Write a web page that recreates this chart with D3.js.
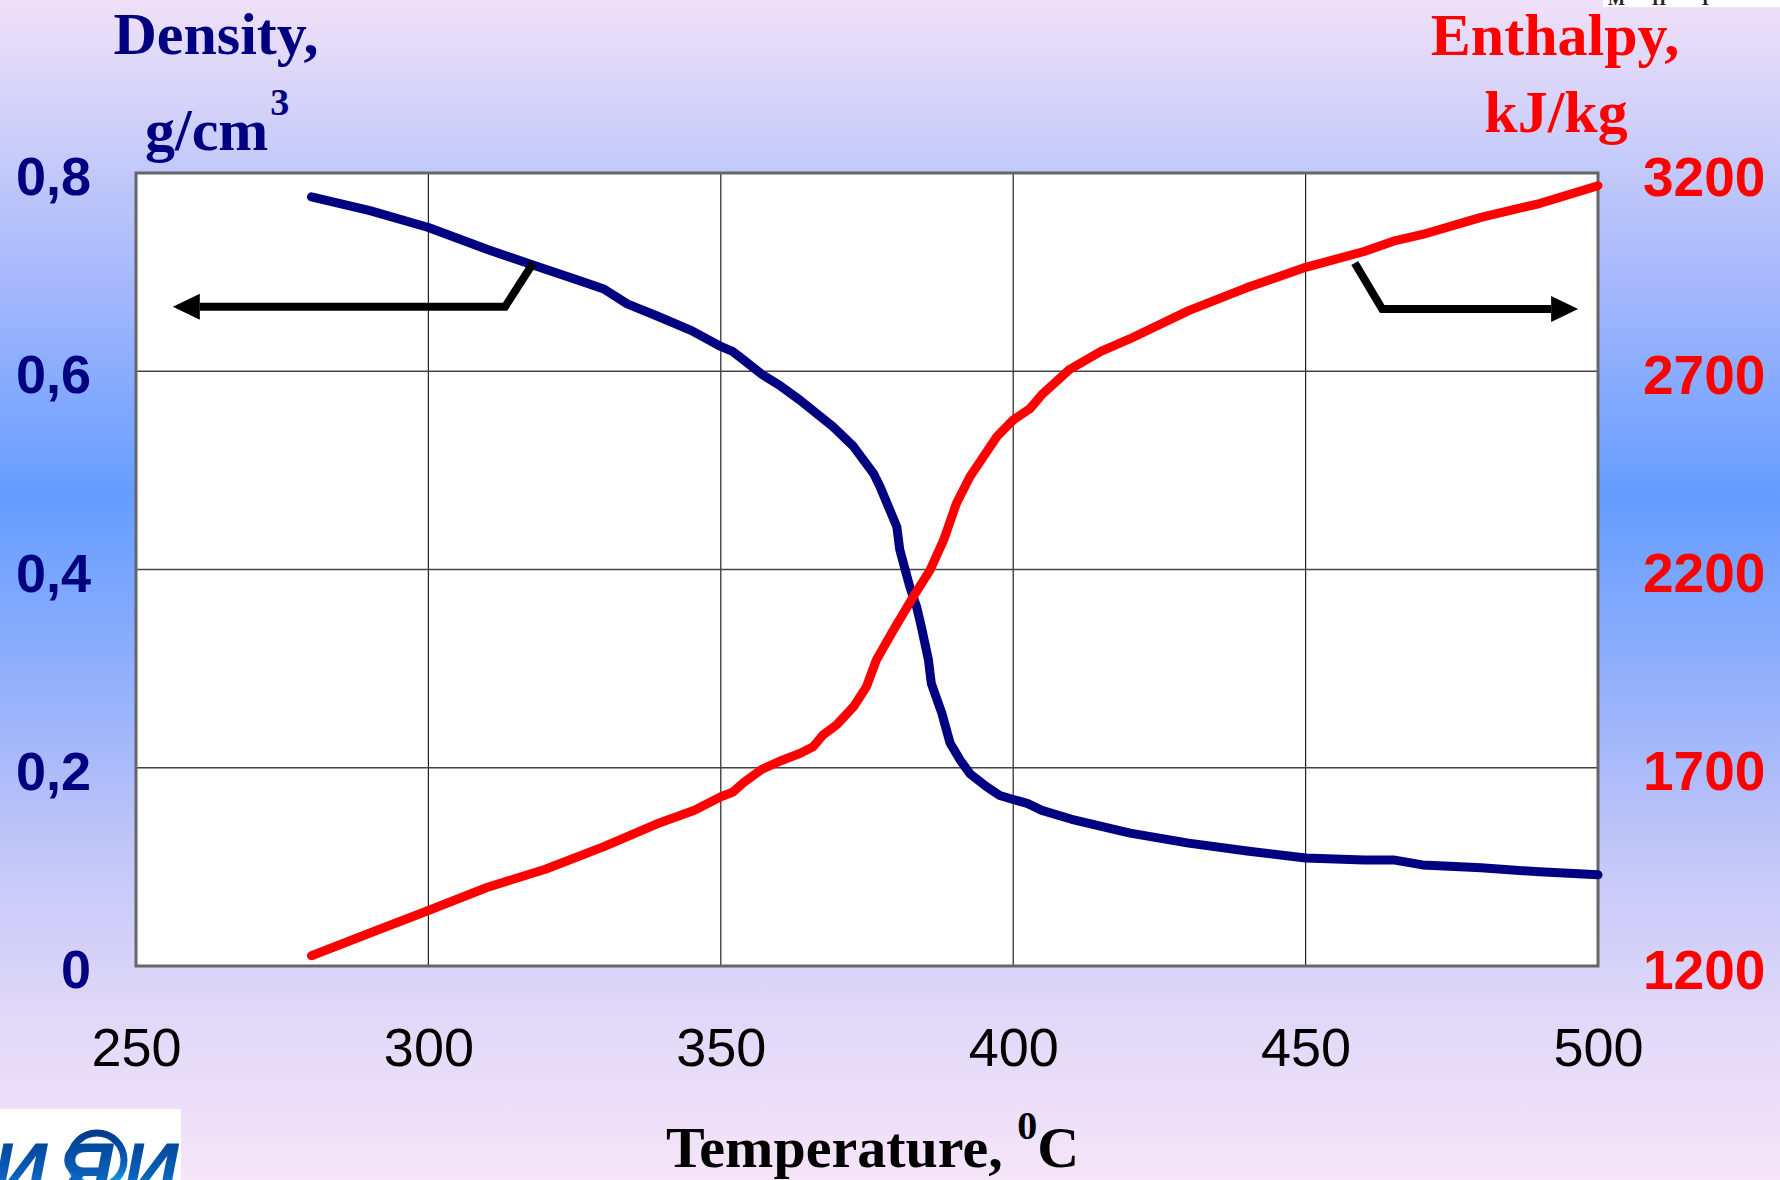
<!DOCTYPE html>
<html>
<head>
<meta charset="utf-8">
<script src="https://cdn.jsdelivr.net/npm/d3@7/dist/d3.min.js"></script>
<style>
  html, body { margin: 0; padding: 0; }
  body { width: 1780px; height: 1180px; overflow: hidden; }
  svg { display: block; }
</style>
</head>
<body>
<svg id="chart" width="1780" height="1180"></svg>
<script>
// ---- Data ----
const tempDensity = [280,290,300,310,319,325,330,334,339,345,350,352,354,357,360,363.5,369.2,372.7,376.1,377.2,378.9,380.1,380.6,382.3,383.5,384.3,385.5,386,387.8,389.2,390.9,392.6,395.4,397.7,400,402.4,404.9,410,420,430,440,450,460,465,470,480,490,500];
const density = [0.776,0.762,0.745,0.723,0.705,0.693,0.683,0.668,0.656,0.641,0.625,0.620,0.611,0.597,0.586,0.571,0.544,0.524,0.497,0.484,0.460,0.443,0.420,0.383,0.362,0.342,0.309,0.285,0.255,0.225,0.208,0.194,0.181,0.172,0.168,0.164,0.157,0.148,0.134,0.124,0.116,0.109,0.107,0.107,0.102,0.099,0.095,0.092];

const tempEnthalpy = [280,291,300,310,320,330,339,345.5,350,352,354,357,360.5,363.5,365.8,367.5,369.8,372.7,374.9,376.6,379.5,382.9,385.8,388.1,390.3,392.6,397.2,400,402.9,404.9,409.6,415,420,430,440,450,460,465,470,480,490,500];
const enthalpy = [1226,1289,1340,1398,1444,1501,1558,1593,1627,1638,1664,1696,1719,1736,1753,1783,1808,1854,1904,1972,2047,2131,2199,2274,2367,2434,2535,2577,2606,2641,2704,2750,2782,2853,2911,2962,3002,3028,3045,3088,3123,3168];

const tempTicks = [250,300,350,400,450,500];
const densityTicks = [0,0.2,0.4,0.6,0.8];
const enthalpyTicks = [1200,1700,2200,2700,3200];

// annotation arrows (data units): [temperature, value]
const leftArrow = [[317.9,0.709],[313.1,0.665],[256.3,0.665]];     // density axis
const rightArrow = [[458.4,2973],[463.1,2857],[496.6,2857]];      // enthalpy axis

// ---- Layout ----
const W = 1780, H = 1180;
const plot = {left:136, right:1598, top:173, bottom:966};

const svg = d3.select("#chart");
const defs = svg.append("defs");
const bg = defs.append("linearGradient").attr("id","bg").attr("x1",0).attr("y1",0).attr("x2",0).attr("y2",1);
[[0,"#efe1f8"],[0.12,"#cacdf9"],[0.25,"#a2b6fc"],[0.42,"#649dff"],[0.58,"#94b0fb"],[0.72,"#c2c6f8"],[0.86,"#e0d8f8"],[1,"#f6e5f8"]]
  .forEach(([o,c]) => bg.append("stop").attr("offset",o).attr("stop-color",c));

svg.append("rect").attr("width",W).attr("height",H).attr("fill","url(#bg)");

// fragment of cut-off header text at top right
const hdr = svg.append("g");
hdr.append("rect").attr("x",1603).attr("y",0).attr("width",177).attr("height",7).attr("fill","#ffffff");
const clip = defs.append("clipPath").attr("id","hdrclip");
clip.append("rect").attr("x",1603).attr("y",0).attr("width",177).attr("height",7);
hdr.append("text").attr("clip-path","url(#hdrclip)")
  .attr("x",1608).attr("y",5).attr("font-family","Liberation Serif").attr("font-weight","bold")
  .attr("font-size",18).attr("fill","#222").attr("xml:space","preserve").text("М      П        Г");

// scales
const x = d3.scaleLinear().domain([250,500]).range([plot.left, plot.right]);
const yL = d3.scaleLinear().domain([0,0.8]).range([plot.bottom, plot.top]);
const yR = d3.scaleLinear().domain([1200,3200]).range([plot.bottom, plot.top]);

// plot background
svg.append("rect").attr("x",plot.left).attr("y",plot.top)
  .attr("width",plot.right-plot.left).attr("height",plot.bottom-plot.top).attr("fill","#ffffff");

// grid
const grid = svg.append("g");
grid.selectAll("line.v").data(tempTicks.slice(1,-1)).join("line")
  .attr("x1",d=>x(d)).attr("x2",d=>x(d)).attr("y1",plot.top).attr("y2",plot.bottom)
  .attr("stroke","#222").attr("stroke-width",1.2);
grid.selectAll("line.h").data(densityTicks.slice(1,-1)).join("line")
  .attr("x1",plot.left).attr("x2",plot.right).attr("y1",d=>yL(d)).attr("y2",d=>yL(d))
  .attr("stroke","#444").attr("stroke-width",1.5);

// border
svg.append("rect").attr("x",plot.left).attr("y",plot.top)
  .attr("width",plot.right-plot.left).attr("height",plot.bottom-plot.top)
  .attr("fill","none").attr("stroke","#666").attr("stroke-width",3);

// axes
const fmtD = d => d === 0 ? "0" : d3.format(".1f")(d).replace(".", ",");
const gL = svg.append("g").attr("transform",`translate(${plot.left},0)`)
  .call(d3.axisLeft(yL).tickValues(densityTicks).tickFormat(fmtD).tickSize(0).tickPadding(45));
gL.select(".domain").remove();
gL.selectAll("text").attr("font-family","Liberation Sans").attr("font-weight","bold")
  .attr("font-size",54).attr("fill","#000080").attr("dy","0.4em");

const gR = svg.append("g").attr("transform",`translate(${plot.right},0)`)
  .call(d3.axisRight(yR).tickValues(enthalpyTicks).tickFormat(d3.format("d")).tickSize(0).tickPadding(45));
gR.select(".domain").remove();
gR.selectAll("text").attr("font-family","Liberation Sans").attr("font-weight","bold")
  .attr("font-size",55).attr("fill","#ff0000").attr("dy","0.4em");

const gB = svg.append("g").attr("transform",`translate(0,${plot.bottom})`)
  .call(d3.axisBottom(x).tickValues(tempTicks).tickFormat(d3.format("d")).tickSize(0).tickPadding(62));
gB.select(".domain").remove();
gB.selectAll("text").attr("font-family","Liberation Sans")
  .attr("font-size",54).attr("fill","#000").attr("dy","0.71em");

// lines
const lineD = d3.line().x(d=>x(d[0])).y(d=>yL(d[1]));
const lineH = d3.line().x(d=>x(d[0])).y(d=>yR(d[1]));
svg.append("path").datum(d3.zip(tempDensity, density)).attr("d",lineD)
  .attr("fill","none").attr("stroke","#000080").attr("stroke-width",9)
  .attr("stroke-linecap","round").attr("stroke-linejoin","round");
svg.append("path").datum(d3.zip(tempEnthalpy, enthalpy)).attr("d",lineH)
  .attr("fill","none").attr("stroke","#ff0000").attr("stroke-width",9)
  .attr("stroke-linecap","round").attr("stroke-linejoin","round");

// arrows
function drawArrow(pts, yScale, dir) {
  const p = pts.map(d => [x(d[0]), yScale(d[1])]);
  const tip = p[p.length-1];
  const headLen = 27, headHalf = 13;
  const base = [tip[0] - dir*headLen, tip[1]];
  const shaft = p.slice(0,-1).concat([base]);
  svg.append("path").attr("d", d3.line()(shaft)).attr("fill","none")
    .attr("stroke","#000").attr("stroke-width",8).attr("stroke-linejoin","miter");
  svg.append("path").attr("d", d3.line()([tip,[base[0],base[1]-headHalf],[base[0],base[1]+headHalf]]) + "Z")
    .attr("fill","#000");
}
drawArrow(leftArrow, yL, -1);
drawArrow(rightArrow, yR, 1);

// titles
const serif = "Liberation Serif";
svg.append("text").attr("x",216).attr("y",54).attr("text-anchor","middle")
  .attr("font-family",serif).attr("font-weight","bold").attr("font-size",60).attr("fill","#000080").text("Density,");
const gcm = svg.append("text").attr("x",145).attr("y",150)
  .attr("font-family",serif).attr("font-weight","bold").attr("font-size",60).attr("fill","#000080");
gcm.append("tspan").text("g/cm");
gcm.append("tspan").attr("font-size",38).attr("dy",-35).attr("dx",2).text("3");

svg.append("text").attr("x",1555).attr("y",55).attr("text-anchor","middle")
  .attr("font-family",serif).attr("font-weight","bold").attr("font-size",60).attr("fill","#ff0000").text("Enthalpy,");
svg.append("text").attr("x",1556).attr("y",132).attr("text-anchor","middle")
  .attr("font-family",serif).attr("font-weight","bold").attr("font-size",60).attr("fill","#ff0000").text("kJ/kg");

const tt = svg.append("text").attr("x",666).attr("y",1167)
  .attr("font-family",serif).attr("font-weight","bold").attr("font-size",58).attr("fill","#000");
tt.append("tspan").text("Temperature, ");
tt.append("tspan").attr("font-size",40).attr("dy",-28).text("0");
tt.append("tspan").attr("dy",28).text("C");

// logo (bottom-left)
const logoGrad = defs.append("linearGradient").attr("id","logoG").attr("x1",0).attr("y1",0).attr("x2",0).attr("y2",1);
[[0,"#003a8c"],[0.55,"#0a5fb8"],[1,"#1aa6e8"]].forEach(([o,c]) => logoGrad.append("stop").attr("offset",o).attr("stop-color",c));
const logo = svg.append("g");
logo.append("rect").attr("x",0).attr("y",1109).attr("width",181).attr("height",71).attr("fill","#ffffff");
logo.append("circle").attr("cx",97).attr("cy",1160).attr("r",27).attr("fill","none")
  .attr("stroke","url(#logoG)").attr("stroke-width",7);
logo.append("text").attr("x",-8).attr("y",1196).attr("font-family","Liberation Sans").attr("font-weight","bold")
  .attr("font-style","italic").attr("font-size",76).attr("fill","url(#logoG)").attr("textLength",186)
  .text("ИЯИ");
</script>
</body>
</html>
